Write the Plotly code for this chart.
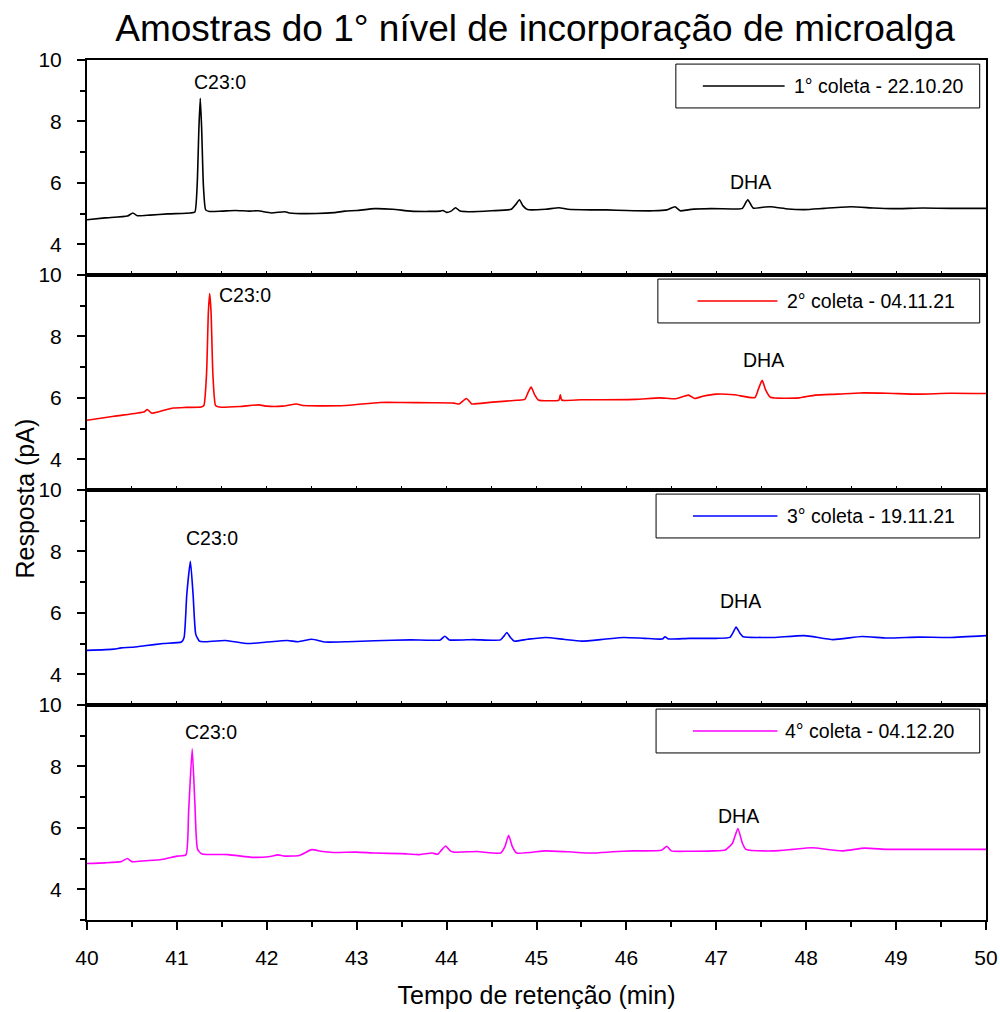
import plotly.graph_objects as go
from plotly.subplots import make_subplots

# ---------------- data ----------------
x1 = [40.0, 40.2, 40.45, 40.51, 40.56, 40.7, 40.9, 41.15, 41.2, 41.225, 41.245, 41.26, 41.275, 41.295, 41.32, 41.36,
      41.5, 41.65, 41.8, 41.9, 42.05, 42.2, 42.25, 42.55, 42.75, 42.87, 43.0, 43.2, 43.4, 43.6, 43.8, 43.93, 43.96,
      44.0, 44.05, 44.1, 44.15, 44.24, 44.5, 44.72, 44.77, 44.81, 44.85, 44.9, 45.1, 45.25, 45.35, 45.6, 45.78, 46.0,
      46.3, 46.45, 46.54, 46.6, 46.7, 46.94, 47.2, 47.29, 47.35, 47.41, 47.5, 47.6, 47.8, 47.98, 48.2, 48.5, 48.75,
      48.95, 49.3, 49.6, 50.0]
y1 = [4.80, 4.86, 4.92, 5.02, 4.93, 4.95, 4.99, 5.02, 5.05, 5.9, 7.8, 8.75, 7.8, 5.9, 5.12, 5.07,
      5.08, 5.10, 5.08, 5.09, 5.02, 5.06, 5.02, 5.00, 5.03, 5.08, 5.10, 5.16, 5.14, 5.08, 5.07, 5.08, 5.10,
      5.04, 5.08, 5.19, 5.08, 5.06, 5.09, 5.14, 5.30, 5.45, 5.25, 5.13, 5.14, 5.19, 5.14, 5.12, 5.12, 5.10,
      5.09, 5.12, 5.22, 5.09, 5.13, 5.16, 5.15, 5.17, 5.45, 5.18, 5.20, 5.22, 5.15, 5.13, 5.17, 5.22, 5.18,
      5.16, 5.18, 5.17, 5.17]

x2 = [40.0, 40.3, 40.55, 40.64, 40.67, 40.72, 40.8, 40.96, 41.1, 41.27, 41.3, 41.33, 41.35, 41.365, 41.38, 41.40,
      41.43, 41.47, 41.7, 41.91, 42.0, 42.17, 42.33, 42.4, 42.6, 42.87, 43.05, 43.26, 43.5, 43.83, 44.08, 44.14,
      44.22, 44.28, 44.3, 44.55, 44.78, 44.87, 44.91, 44.94, 44.98, 45.02, 45.25, 45.265, 45.28, 45.5, 45.73,
      46.1, 46.37, 46.55, 46.69, 46.76, 46.85, 47.0, 47.2, 47.43, 47.47, 47.51, 47.55, 47.6, 47.92, 48.1, 48.35,
      48.6, 48.9, 49.24, 49.6, 50.0]
y2 = [5.27, 5.40, 5.50, 5.55, 5.62, 5.50, 5.55, 5.67, 5.69, 5.70, 5.75, 6.8, 8.8, 9.4, 8.8, 6.8,
      5.75, 5.70, 5.72, 5.77, 5.73, 5.73, 5.80, 5.75, 5.74, 5.75, 5.80, 5.85, 5.85, 5.84, 5.83, 5.80,
      5.98, 5.80, 5.80, 5.87, 5.92, 5.95, 6.20, 6.35, 6.10, 5.93, 5.93, 6.10, 5.93, 5.94, 5.94,
      5.95, 6.00, 5.97, 6.09, 5.98, 6.05, 6.12, 6.10, 6.01, 6.30, 6.57, 6.25, 6.02, 6.00, 6.09, 6.12,
      6.16, 6.15, 6.12, 6.15, 6.14]

x3 = [40.0, 40.3, 40.38, 40.5, 40.64, 40.85, 41.05, 41.08, 41.11, 41.15, 41.18, 41.21, 41.25, 41.3, 41.54, 41.79,
      42.0, 42.23, 42.35, 42.5, 42.65, 42.9, 43.2, 43.6, 43.93, 43.98, 44.03, 44.3, 44.6, 44.64, 44.67, 44.71,
      44.75, 44.9, 45.1, 45.3, 45.5, 45.75, 45.97, 46.2, 46.4, 46.43, 46.47, 46.7, 47.0, 47.15, 47.19, 47.22,
      47.26, 47.3, 47.5, 47.65, 47.98, 48.3, 48.62, 48.9, 49.25, 49.6, 50.0]
y3 = [4.78, 4.82, 4.86, 4.88, 4.93, 5.00, 5.05, 5.20, 6.6, 7.68, 6.6, 5.30, 5.08, 5.06, 5.10, 5.00,
      5.05, 5.10, 5.06, 5.14, 5.05, 5.06, 5.09, 5.12, 5.12, 5.24, 5.12, 5.13, 5.12, 5.25, 5.36, 5.20,
      5.08, 5.14, 5.20, 5.14, 5.08, 5.14, 5.20, 5.17, 5.15, 5.22, 5.15, 5.17, 5.17, 5.20, 5.38, 5.54,
      5.35, 5.22, 5.20, 5.20, 5.26, 5.13, 5.23, 5.18, 5.21, 5.20, 5.26]

x4 = [40.0, 40.2, 40.38, 40.45, 40.5, 40.65, 40.83, 41.0, 41.1, 41.13, 41.17, 41.2, 41.23, 41.28, 41.57, 41.85,
      42.04, 42.12, 42.2, 42.36, 42.5, 42.6, 42.74, 43.0, 43.2, 43.5, 43.7, 43.84, 43.9, 43.95, 43.99, 44.04,
      44.08, 44.34, 44.6, 44.65, 44.69, 44.73, 44.78, 45.1, 45.35, 45.62, 45.85, 46.07, 46.39, 46.45, 46.5,
      46.7, 46.96, 47.1, 47.18, 47.24, 47.29, 47.33, 47.64, 47.85, 48.06, 48.4, 48.65, 48.9, 49.24, 49.6, 50.0]
y4 = [4.84, 4.86, 4.90, 5.00, 4.90, 4.93, 4.97, 5.08, 5.12, 6.5, 8.57, 6.8, 5.30, 5.15, 5.13, 5.04,
      5.07, 5.12, 5.08, 5.10, 5.29, 5.24, 5.20, 5.21, 5.18, 5.16, 5.13, 5.18, 5.14, 5.30, 5.41, 5.25,
      5.21, 5.23, 5.18, 5.40, 5.76, 5.40, 5.18, 5.25, 5.22, 5.18, 5.22, 5.25, 5.27, 5.40, 5.25,
      5.24, 5.25, 5.28, 5.50, 5.98, 5.50, 5.30, 5.25, 5.30, 5.35, 5.25, 5.34, 5.30, 5.30, 5.30, 5.30]

series_x = [x1, x2, x3, x4]
series_y = [y1, y2, y3, y4]
series_names = ["1° coleta - 22.10.20", "2° coleta - 04.11.21", "3° coleta - 19.11.21", "4° coleta - 04.12.20"]
series_colors = ["#000000", "#FF0000", "#0000FF", "#FF00FF"]

# peak labels (x, y) per panel
c23_pos = [(41.48, 9.28), (41.76, 9.35), (41.39, 8.43), (41.38, 9.12)]
dha_pos = [(47.375, 6.02), (47.53, 7.23), (47.27, 6.38), (47.25, 6.38)]

y_tickvals = [4, 6, 8, 10]
x_tickvals = [40, 41, 42, 43, 44, 45, 46, 47, 48, 49, 50]

FONT = "Liberation Sans, Arial, sans-serif"

fig = make_subplots(rows=4, cols=1, shared_xaxes=True, vertical_spacing=0)

# legend geometry (domain fractions) per panel
leg_box_x0 = [0.655, 0.635, 0.633, 0.633]
leg_line_x = [(0.685, 0.776), (0.679, 0.768), (0.674, 0.768), (0.674, 0.768)]
leg_text_x = [0.784, 0.776, 0.776, 0.774]

for i in range(4):
    r = i + 1
    fig.add_trace(go.Scatter(x=series_x[i], y=series_y[i], mode="lines", name=series_names[i],
                             line=dict(color=series_colors[i], width=1.6, shape="spline", smoothing=0.5),
                             showlegend=False),
                  row=r, col=1)
    xr = "x" if r == 1 else f"x{r}"
    yr = "y" if r == 1 else f"y{r}"
    # peak labels
    fig.add_annotation(x=c23_pos[i][0], y=c23_pos[i][1], xref=xr, yref=yr, text="C23:0",
                       showarrow=False, font=dict(size=19.5, color="#000", family=FONT))
    fig.add_annotation(x=dha_pos[i][0], y=dha_pos[i][1], xref=xr, yref=yr, text="DHA",
                       showarrow=False, font=dict(size=19.5, color="#000", family=FONT))
    # legend box
    fig.add_shape(type="rect", xref=f"{xr} domain", yref=f"{yr} domain",
                  x0=leg_box_x0[i], x1=0.993, y0=0.777, y1=0.981,
                  line=dict(color="#000", width=1), fillcolor="rgba(255,255,255,0)")
    fig.add_shape(type="line", xref=f"{xr} domain", yref=f"{yr} domain",
                  x0=leg_line_x[i][0], x1=leg_line_x[i][1], y0=0.879, y1=0.879,
                  line=dict(color=series_colors[i], width=1.6))
    fig.add_annotation(x=leg_text_x[i], y=0.879, xref=f"{xr} domain", yref=f"{yr} domain",
                       text=series_names[i], showarrow=False, xanchor="left", yanchor="middle",
                       font=dict(size=19.5, color="#000", family=FONT))

    fig.update_yaxes(row=r, col=1, range=[3, 10], tickvals=y_tickvals, ticks="outside", ticklen=8,
                     tickwidth=2, tickcolor="#000", showline=True, linewidth=2, linecolor="#000",
                     mirror=True, showgrid=False, zeroline=False, automargin=False,
                     ticklabelstandoff=11,
                     tickfont=dict(size=21, color="#000", family=FONT),
                     minor=dict(tickvals=[3, 5, 7, 9], ticks="outside", ticklen=5, tickwidth=2,
                                tickcolor="#000", showgrid=False))
    if r < 4:
        fig.update_xaxes(row=r, col=1, range=[40, 50], showline=True, linewidth=2, linecolor="#000",
                         mirror=True, showgrid=False, zeroline=False, showticklabels=False,
                         automargin=False,
                         tickvals=[v / 2 for v in range(80, 101)], ticks="inside", ticklen=4,
                         tickwidth=1, tickcolor="#000")
    else:
        fig.update_xaxes(row=r, col=1, range=[40, 50], showline=True, linewidth=2, linecolor="#000",
                         mirror=True, showgrid=False, zeroline=False, showticklabels=True,
                         automargin=False, ticklabelstandoff=10,
                         tickvals=x_tickvals, ticks="outside", ticklen=8, tickwidth=2, tickcolor="#000",
                         tickfont=dict(size=21, color="#000", family=FONT),
                         minor=dict(dtick=0.5, ticks="outside", ticklen=5, tickwidth=2,
                                    tickcolor="#000", showgrid=False),
                         title=dict(text="Tempo de retenção (min)", standoff=18,
                                    font=dict(size=25, color="#000", family=FONT)))

fig.add_annotation(x=-0.069, y=0.49, xref="paper", yref="paper", text="Resposta (pA)", textangle=-90,
                   xanchor="center", yanchor="middle",
                   showarrow=False, font=dict(size=25, color="#000", family=FONT))

fig.update_layout(
    width=1000, height=1012,
    margin=dict(l=87, r=14, t=60, b=92),
    paper_bgcolor="white", plot_bgcolor="white",
    title=dict(text="Amostras do 1° nível de incorporação de microalga", x=0.535, xanchor="center",
               y=0.972, yanchor="middle", font=dict(size=37, color="#000", family=FONT)),
    showlegend=False,
)

fig.write_html("out.html")
